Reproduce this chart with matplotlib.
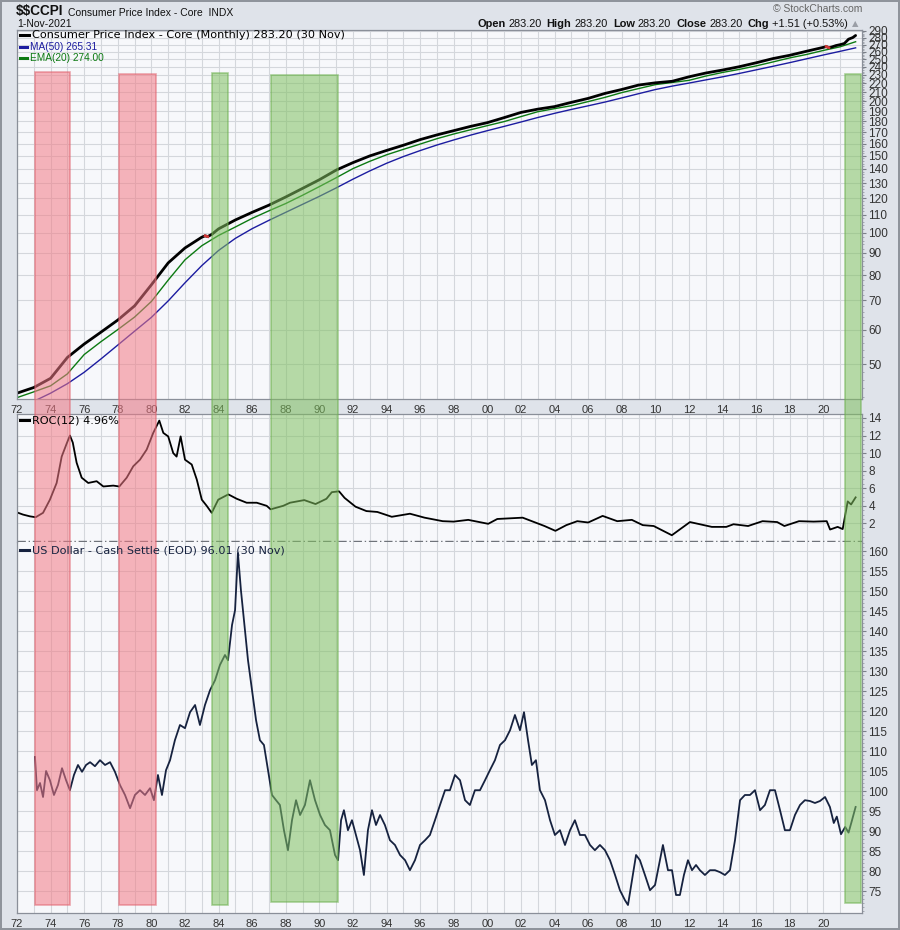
import matplotlib
matplotlib.use("Agg")
import matplotlib.pyplot as plt
from matplotlib.lines import Line2D
from matplotlib.patches import Rectangle
from matplotlib.text import Annotation
from matplotlib.ticker import FixedLocator, FuncFormatter
import matplotlib.transforms as mtransforms
import numpy as np

# --- data ---
cpi_years = [1972, 1973, 1974, 1975, 1976, 1977, 1978, 1979, 1980, 1981, 1982,
             1983, 1983.2, 1983.35, 1983.6, 1984, 1985, 1986, 1987, 1988, 1989,
             1990, 1991, 1992, 1993, 1994, 1995, 1996, 1997, 1998, 1999, 2000,
             2001, 2002, 2003, 2004, 2005, 2006, 2007, 2008, 2009, 2010, 2011,
             2012, 2013, 2014, 2015, 2016, 2017, 2018, 2019, 2020, 2020.17,
             2020.33, 2020.5, 2020.75, 2021, 2021.25, 2021.5, 2021.75, 2021.92]
cpi_values = [42.9, 44.2, 46.4, 51.8, 55.6, 59.2, 63.1, 68.0, 76.0, 85.3, 92.3,
              97.7, 98.4, 98.0, 99.2, 102.1, 107.0, 111.4, 115.7, 120.8, 126.4,
              132.3, 139.2, 144.8, 150.0, 154.4, 158.7, 163.5, 167.6, 171.4, 175.3, 178.8,
              183.6, 188.7, 192.0, 194.6, 199.0, 203.2, 208.6, 213.0, 218.0, 220.6, 222.4,
              227.7, 232.3, 236.0, 240.2, 245.2, 250.7, 255.1, 260.6, 266.0, 267.1,
              265.6, 266.5, 268.5, 269.8, 271.5, 277.7, 280.1, 283.2]

avg_years = [1972, 1973, 1974, 1975, 1976, 1977, 1978, 1979, 1980, 1981, 1982,
             1983, 1984, 1985, 1986, 1987, 1988, 1989, 1990, 1991, 1992, 1993,
             1994, 1995, 1996, 1997, 1998, 1999, 2000, 2001, 2002, 2003, 2004,
             2005, 2006, 2007, 2008, 2009, 2010, 2011, 2012, 2013, 2014, 2015,
             2016, 2017, 2018, 2019, 2020, 2021, 2021.92]
ma50 = [39.2, 41.1, 42.9, 45.1, 47.9, 51.4, 55.3, 59.5, 64.0, 69.8, 76.8,
        84.1, 91.1, 97.1, 102.2, 106.8, 111.4, 116.2, 121.2, 126.7, 132.7, 138.6,
        144.3, 149.5, 154.3, 158.9, 163.2, 167.4, 171.4, 175.3, 179.4, 183.7, 187.8,
        191.7, 195.4, 199.3, 203.7, 208.3, 212.9, 216.8, 220.3, 224.0, 227.7, 231.8,
        236.2, 240.7, 245.4, 250.4, 255.5, 260.5, 265.31]
ema20 = [41.9, 43.2, 44.6, 47.5, 52.6, 56.3, 60.0, 64.1, 69.6, 77.9, 86.7,
         93.4, 98.6, 103.1, 107.9, 112.3, 116.7, 121.9, 127.6, 133.7, 140.3, 145.8,
         150.9, 155.3, 159.7, 164.3, 168.4, 172.2, 176.0, 179.8, 184.6, 189.4, 192.5,
         195.5, 199.8, 204.3, 209.5, 214.0, 218.5, 221.0, 223.5, 228.6, 233.0, 236.8,
         241.2, 246.3, 251.6, 256.2, 261.7, 266.8, 274.0]

roc_years = [1972.0, 1972.36, 1972.77, 1973.11, 1973.55, 1973.96, 1974.36, 1974.66,
             1974.96, 1975.15, 1975.32, 1975.55, 1975.85, 1976.24, 1976.74, 1977.14,
             1977.73, 1978.09, 1978.53, 1978.92, 1979.32, 1979.72, 1980.11, 1980.47,
             1980.71, 1981.0, 1981.3, 1981.5, 1981.74, 1982.0, 1982.4, 1982.7,
             1983.0, 1983.29, 1983.59, 1983.98, 1984.58, 1985.08, 1985.67, 1986.27,
             1986.86, 1987.1, 1987.85, 1988.25, 1989.1, 1989.77, 1990.42, 1990.74,
             1991.17, 1991.5, 1992.15, 1992.8, 1993.45, 1994.31, 1995.39, 1996.26,
             1997.34, 1997.99, 1998.86, 2000.05, 2000.59, 2002.1, 2003.4, 2004.05,
             2004.7, 2005.35, 2006.0, 2006.86, 2007.73, 2008.6, 2009.25, 2009.9,
             2010.98, 2012.06, 2013.36, 2014.22, 2014.65, 2015.52, 2016.38, 2017.25,
             2017.68, 2018.55, 2019.42, 2020.2, 2020.4, 2020.85, 2021.15, 2021.45,
             2021.65, 2021.92]
roc_values = [3.25, 3.0, 2.8, 2.7, 3.2, 4.7, 6.6, 9.6,
              11.1, 12.0, 11.2, 8.9, 7.2, 6.6, 6.8, 6.2,
              6.3, 6.2, 7.2, 8.5, 9.25, 10.4, 12.3, 13.7,
              12.3, 11.9, 10.0, 9.6, 11.9, 9.25, 8.7, 7.0,
              4.7, 4.0, 3.2, 4.7, 5.3, 4.8, 4.35, 4.35,
              4.0, 3.6, 4.0, 4.35, 4.65, 4.2, 4.8, 5.55,
              5.65, 4.9, 3.9, 3.4, 3.3, 2.75, 3.1, 2.65,
              2.25, 2.2, 2.4, 1.95, 2.5, 2.65, 1.7, 1.15,
              1.8, 2.25, 2.1, 2.85, 2.25, 2.4, 1.8, 1.7,
              0.65, 2.15, 1.6, 1.6, 1.9, 1.7, 2.25, 2.15,
              1.7, 2.25, 2.2, 2.25, 1.3, 1.6, 1.35, 4.5,
              4.15, 4.96]

usd_years = [1973.07, 1973.19, 1973.37, 1973.55, 1973.73, 1973.96, 1974.20, 1974.44,
             1974.68, 1974.92, 1975.15, 1975.39, 1975.63, 1975.87, 1976.11, 1976.35,
             1976.64, 1976.94, 1977.24, 1977.54, 1977.83, 1978.13, 1978.43, 1978.73,
             1979.02, 1979.32, 1979.62, 1979.92, 1980.15, 1980.39, 1980.63, 1980.87,
             1981.11, 1981.40, 1981.70, 1982.00, 1982.30, 1982.60, 1982.89, 1983.19,
             1983.49, 1983.79, 1984.08, 1984.38, 1984.56, 1984.80, 1984.98, 1985.15,
             1985.33, 1985.51, 1985.75, 1985.99, 1986.23, 1986.46, 1986.70, 1986.94,
             1987.18, 1987.42, 1987.65, 1987.89, 1988.13, 1988.37, 1988.61, 1988.85,
             1989.14, 1989.44, 1989.74, 1990.04, 1990.33, 1990.63, 1990.93, 1991.11,
             1991.29, 1991.46, 1991.70, 1991.94, 1992.18, 1992.42, 1992.65, 1992.89,
             1993.13, 1993.37, 1993.61, 1993.90, 1994.20, 1994.50, 1994.80, 1995.10,
             1995.39, 1995.69, 1995.99, 1996.29, 1996.58, 1996.88, 1997.18, 1997.48,
             1997.77, 1998.07, 1998.37, 1998.67, 1998.96, 1999.26, 1999.56, 1999.86,
             2000.15, 2000.45, 2000.75, 2001.05, 2001.35, 2001.64, 2001.94, 2002.18,
             2002.42, 2002.65, 2002.89, 2003.13, 2003.43, 2003.73, 2004.02, 2004.32,
             2004.62, 2004.92, 2005.21, 2005.51, 2005.81, 2006.11, 2006.40, 2006.70,
             2007.00, 2007.30, 2007.60, 2007.89, 2008.19, 2008.37, 2008.61, 2008.85,
             2009.08, 2009.38, 2009.68, 2009.98, 2010.27, 2010.45, 2010.75, 2010.99,
             2011.23, 2011.46, 2011.70, 2011.94, 2012.18, 2012.42, 2012.65, 2012.95,
             2013.25, 2013.55, 2013.85, 2014.14, 2014.44, 2014.74, 2015.04, 2015.33,
             2015.63, 2015.93, 2016.23, 2016.52, 2016.82, 2017.12, 2017.42, 2017.71,
             2018.01, 2018.31, 2018.61, 2018.90, 2019.20, 2019.50, 2019.80, 2020.10,
             2020.39, 2020.62, 2020.80, 2021.05, 2021.30, 2021.50, 2021.68, 2021.92]
usd_values = [108.5, 100.2, 102.0, 98.5, 105.0, 102.7, 99.0, 101.5,
              105.7, 102.7, 100.2, 104.0, 106.5, 104.8, 106.5, 107.2,
              106.2, 107.7, 106.5, 107.2, 104.8, 101.5, 99.0, 95.7,
              99.0, 100.2, 99.0, 100.7, 97.7, 104.0, 99.0, 105.2,
              107.7, 112.7, 116.5, 115.7, 119.7, 121.5, 116.5, 121.5,
              125.2, 127.7, 131.5, 134.0, 132.7, 141.5, 145.2, 159.5,
              150.2, 142.7, 132.7, 125.2, 117.7, 112.7, 111.5, 105.2,
              99.0, 97.7, 96.5, 90.2, 85.2, 92.7, 97.7, 94.0,
              96.5, 102.7, 97.7, 94.0, 91.5, 90.2, 84.0, 82.7,
              92.7, 95.2, 90.2, 92.7, 89.0, 85.2, 79.0, 90.2,
              95.2, 91.5, 94.0, 91.5, 87.7, 86.5, 84.0, 82.7,
              80.2, 82.7, 86.5, 87.7, 89.0, 92.7, 96.5, 100.2,
              100.2, 104.0, 102.7, 97.7, 96.5, 100.2, 100.2, 102.7,
              105.2, 107.7, 111.5, 112.7, 115.2, 119.0, 115.2, 119.7,
              112.7, 106.5, 107.7, 100.2, 97.7, 92.7, 89.0, 90.2,
              86.5, 90.2, 92.7, 89.0, 89.0, 86.5, 85.2, 86.5,
              85.2, 82.7, 79.0, 75.2, 72.7, 71.5, 77.7, 84.0,
              82.7, 79.0, 75.2, 76.5, 82.7, 86.5, 80.2, 80.2,
              74.0, 74.0, 79.0, 82.7, 80.2, 81.5, 80.2, 79.0,
              80.2, 80.2, 79.7, 79.0, 80.2, 87.7, 97.7, 99.0,
              99.0, 100.2, 95.2, 96.5, 100.2, 100.2, 95.2, 90.2,
              90.2, 94.0, 96.5, 97.7, 97.5, 97.0, 97.5, 98.5,
              96.0, 92.0, 93.6, 89.2, 91.0, 89.6, 92.3, 96.01]

# shaded periods: (start, end, kind)
bands = [(1973.09, 1975.17, "red"), (1978.09, 1980.27, "red"),
         (1983.63, 1984.58, "green"), (1987.14, 1991.13, "green"),
         (2021.29, 2022.22, "green")]

W, H = 900, 930
BG = "#dfe3ea"
PANEL = "#f7f8fb"
GRID = "#d4d7dc"
FONT = "Liberation Sans"


def px_box(left, top, right, bottom):
    return [left / W, 1 - bottom / H, (right - left) / W, (bottom - top) / H]


def fx(x):
    return x / W


def fy(y):
    return 1 - y / H


fig = plt.figure(figsize=(9, 9.3), dpi=100)
fig.patch.set_facecolor(BG)
fig.patch.set_edgecolor("#8f949c")
fig.patch.set_linewidth(1.5)

ax1 = fig.add_axes(px_box(17, 30, 862, 399))
ax2 = fig.add_axes(px_box(17, 414, 862, 542))
ax3 = fig.add_axes(px_box(17, 542, 862, 913))
ax2.set_zorder(0.5)

for ax in (ax1, ax2, ax3):
    ax.set_facecolor(PANEL)
    ax.set_xlim(1972, 2022.3)
    ax.xaxis.set_major_locator(FixedLocator(range(1972, 2022, 2)))
    ax.xaxis.set_minor_locator(FixedLocator(range(1973, 2022, 2)))
    ax.xaxis.set_major_formatter(FuncFormatter(lambda v, p: f"{int(round(v)) % 100:02d}"))
    ax.tick_params(axis="x", which="both", length=0, labelsize=8, pad=4,
                   labelcolor="#333333", labelfontfamily=FONT)
    ax.yaxis.tick_right()
    ax.tick_params(axis="y", which="major", length=3, width=0.8, color="#7a7f88",
                   labelsize=8.5, pad=1.5, labelcolor="#333333", labelfontfamily=FONT)
    ax.tick_params(axis="y", which="minor", length=1.5, width=0.6, color="#9aa0a8")
    ax.grid(True, which="both", axis="x", color=GRID, lw=0.8)
    ax.grid(True, which="major", axis="y", color=GRID, lw=0.8)
    ax.set_axisbelow(True)
    for s in ax.spines.values():
        s.set_color("#8a8f99")
        s.set_linewidth(0.9)

# --- price panel ---
ax1.set_yscale("log")
ax1.set_ylim(41.6, 291.5)
ax1.yaxis.set_major_locator(FixedLocator(range(50, 300, 10)))
ax1.yaxis.set_minor_locator(FixedLocator(range(42, 290, 2)))
ax1.yaxis.set_major_formatter(FuncFormatter(lambda v, p: f"{int(round(v))}"))
ax1.yaxis.set_minor_formatter(FuncFormatter(lambda v, p: ""))

ax1.plot(avg_years, ma50, color="#1c1ca0", lw=1.0)
ax1.plot(avg_years, ema20, color="#0c7a12", lw=1.0)
ax1.plot(cpi_years, cpi_values, color="black", lw=2.0, solid_capstyle="round")
cy = np.array(cpi_years)
cv = np.array(cpi_values)
for i in np.where(np.diff(cv) < 0)[0]:
    ax1.plot(cy[i:i + 2], cv[i:i + 2], color="#d23a3a", lw=2.0)

# --- ROC panel ---
ax2.set_ylim(-0.12, 14.45)
ax2.yaxis.set_major_locator(FixedLocator(range(2, 16, 2)))
ax2.yaxis.set_minor_locator(FixedLocator(np.arange(0.5, 14.5, 0.5)))
ax2.tick_params(axis="x", labelbottom=False)
ax2.spines["bottom"].set_visible(False)
ax2.axhline(0, color="#6f737a", lw=1.0, ls=(0, (6, 2, 1, 2)))
ax2.plot(roc_years, roc_values, color="black", lw=1.3)

# --- dollar panel ---
ax3.set_ylim(69.5, 162.25)
ax3.yaxis.set_major_locator(FixedLocator(range(75, 165, 5)))
ax3.yaxis.set_minor_locator(FixedLocator(range(70, 163, 1)))
ax3.spines["top"].set_visible(False)
ax3.plot(usd_years, usd_values, color="#16223f", lw=1.3)

# --- shaded periods, drawn across all panels ---
trans = mtransforms.blended_transform_factory(ax1.transData, fig.transFigure)
band_rows = [(72, 905), (74, 905), (73, 905), (75, 902), (74, 903)]
for (x0, x1, kind), (top, bot) in zip(bands, band_rows):
    if kind == "red":
        fc, ec = "#f27a86", "#e0606c"
    else:
        fc, ec = "#80c060", "#6aae4c"
    fig.patches.append(Rectangle((x0, fy(bot)), x1 - x0, fy(top) - fy(bot),
                                 transform=trans, facecolor=fc, edgecolor=ec,
                                 alpha=0.55, lw=1.2, zorder=1))


def legend_item(x, y, color, text, size, family, dash_w=9):
    fig.lines.append(Line2D([fx(x), fx(x + dash_w)], [fy(y), fy(y)], color=color,
                            lw=2.2, transform=fig.transFigure, zorder=4))
    fig.text(fx(x + dash_w + 2.5), fy(y), text, color=color, fontsize=size,
             family=family, va="center", ha="left", zorder=5)


legend_item(20, 35, "black", "Consumer Price Index - Core (Monthly) 283.20 (30 Nov)", 8.1, "DejaVu Sans")
legend_item(20, 47, "#1c1ca0", "MA(50) 265.31", 7.3, FONT, dash_w=7)
legend_item(20, 58, "#0c7a12", "EMA(20) 274.00", 7.3, FONT, dash_w=7)
legend_item(20, 420, "black", "ROC(12) 4.96%", 8.1, "DejaVu Sans")
legend_item(20, 550, "#16223f", "US Dollar - Cash Settle (EOD) 96.01 (30 Nov)", 8.1, "DejaVu Sans")

# --- header ---
t = fig.text(fx(16), fy(15), r"\$\$CCPI", fontsize=9.8, fontweight="bold", family=FONT,
             color="#111111", va="baseline")
fig.add_artist(Annotation("Consumer Price Index - Core  INDX", xy=(1, 0), xycoords=t,
                          xytext=(3, 0), textcoords="offset points", fontsize=7.5,
                          family=FONT, color="#111111", va="bottom", ha="left"))
fig.text(fx(17), fy(27), "1-Nov-2021", fontsize=7.5, family=FONT, color="#111111",
         va="baseline")
fig.text(fx(862), fy(12), "\u00a9 StockCharts.com", fontsize=7.5, family=FONT,
         color="#666666", ha="right", va="baseline")

pieces = [("Open", True), ("283.20", False), ("High", True), ("283.20", False),
          ("Low", True), ("283.20", False), ("Close", True), ("283.20", False),
          ("Chg", True), ("+1.51 (+0.53%)", False)]
prev = fig.text(fx(477), fy(27), pieces[0][0], fontsize=7.9, fontweight="bold",
                family=FONT, color="#111111", va="baseline")
for txt, bold in pieces[1:]:
    gap = 3.5 if bold else 2.3
    prev = fig.add_artist(Annotation(txt, xy=(1, 0), xycoords=prev, xytext=(gap, 0),
                                     textcoords="offset points", fontsize=7.9,
                                     fontweight="bold" if bold else "normal",
                                     family=FONT, color="#111111", va="bottom", ha="left"))
fig.add_artist(Annotation("\u25b2", xy=(1, 0), xycoords=prev, xytext=(3, 1),
                          textcoords="offset points", fontsize=6, family="DejaVu Sans",
                          color="#9a9ea6", va="bottom", ha="left"))

fig.savefig("out.png", dpi=100, facecolor=fig.get_facecolor(), edgecolor=fig.get_edgecolor())
